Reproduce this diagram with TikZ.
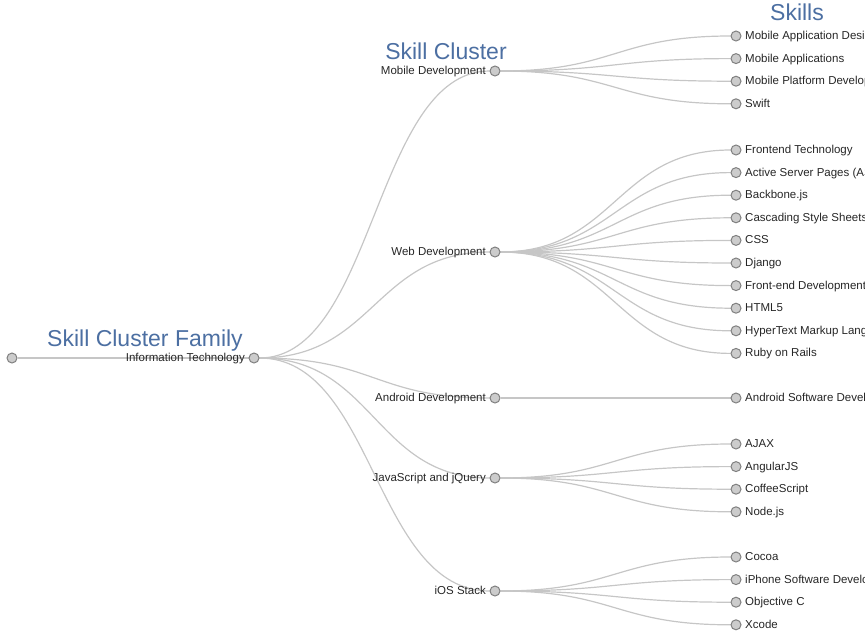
\documentclass[tikz,border=0pt]{standalone}
\usepackage{fontspec}
\setmainfont{Liberation Sans}
\usetikzlibrary{calc,backgrounds}

\definecolor{headblue}{RGB}{76,111,162}

\begin{document}
\begin{tikzpicture}[x=1pt,y=-1pt,
  dot/.style={circle,draw=gray,fill=gray!40,line width=1pt,minimum size=10pt,inner sep=0pt},
  link/.style={draw=gray!45,line width=1.2pt,
    to path={.. controls ($(\tikztostart)!.5!(\tikztostart -| \tikztotarget)$)
      and ($(\tikztotarget)!.5!(\tikztotarget -| \tikztostart)$) .. (\tikztotarget)}},
  head/.style={text=headblue,font=\fontsize{23}{26}\selectfont,anchor=base,inner sep=0pt},
  every label/.style={font=\fontsize{11.5}{13}\selectfont,text=black!85,inner sep=0pt,
    text height=8.5pt,text depth=1.5pt},
  label distance=3.5pt]
  \clip (0,0) rectangle (865,635);

  % headings
  \node[head] (fam) at (145,346) {Skill Cluster Family};
  \node[head] (clu) at (446,59) {Skill Cluster};
  \node[head] (ski) at (797,20) {Skills};

  % family and clusters
  \node[dot] (root) at (12,358) {};
  \node[dot,label=left:Information Technology] (it) at (254,358) {};
  \node[dot,label=left:Mobile Development] (mob) at (495,71) {};
  \node[dot,label=left:Web Development] (web) at (495,252) {};
  \node[dot,label=left:Android Development] (and) at (495,398) {};
  \node[dot,label=left:JavaScript and jQuery] (js) at (495,478) {};
  \node[dot,label=left:iOS Stack] (ios) at (495,591) {};

  % skills
  \foreach \s [count=\i] in {Mobile Application Design,Mobile Applications,
      Mobile Platform Development,Swift}
    \node[dot,label={right:\s}] (mob\i) at (736,{36+22.6*(\i-1)}) {};
  \foreach \s [count=\i] in {Frontend Technology,Active Server Pages (ASP),Backbone.js,
      Cascading Style Sheets (CSS),CSS,Django,Front-end Development,HTML5,
      HyperText Markup Language (HTML),Ruby on Rails}
    \node[dot,label={right:\s}] (web\i) at (736,{150+22.6*(\i-1)}) {};
  \node[dot,label={right:Android Software Development}] (and1) at (736,398) {};
  \foreach \s [count=\i] in {AJAX,AngularJS,CoffeeScript,Node.js}
    \node[dot,label={right:\s}] (js\i) at (736,{444+22.6*(\i-1)}) {};
  \foreach \s [count=\i] in {Cocoa,iPhone Software Development,Objective C,Xcode}
    \node[dot,label={right:\s}] (ios\i) at (736,{557+22.6*(\i-1)}) {};

  \begin{pgfonlayer}{background}
    \path[link] (root) edge (it)
      (it) edge (mob) edge (web) edge (and) edge (js) edge (ios)
      (and) edge (and1);
    \foreach \i in {1,...,4} \path[link] (mob) edge (mob\i);
    \foreach \i in {1,...,10} \path[link] (web) edge (web\i);
    \foreach \i in {1,...,4} \path[link] (js) edge (js\i);
    \foreach \i in {1,...,4} \path[link] (ios) edge (ios\i);
  \end{pgfonlayer}
\end{tikzpicture}
\end{document}
